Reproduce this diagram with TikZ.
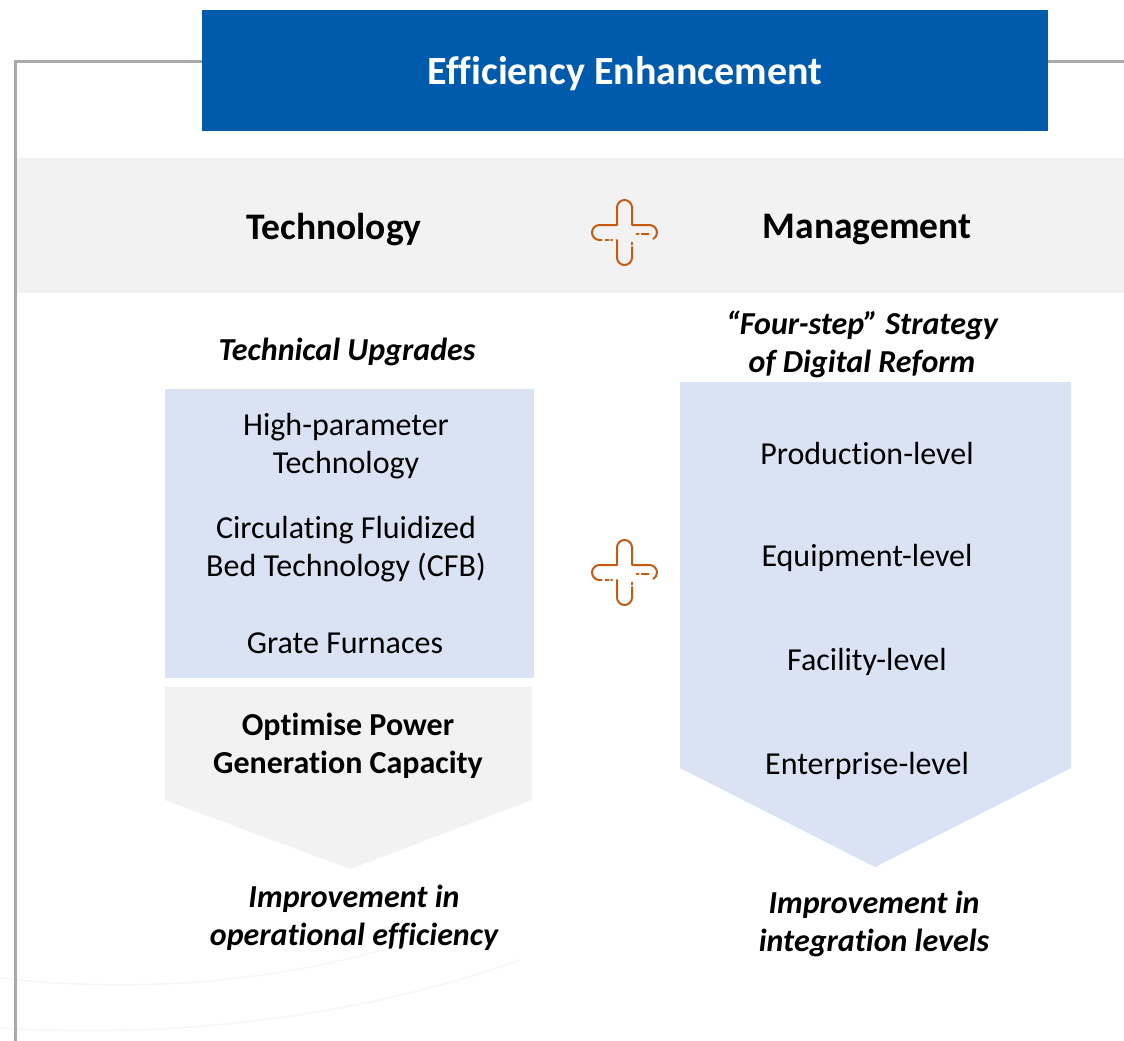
\documentclass[tikz,border=0pt]{standalone}
\usepackage{fontspec}
\setmainfont{Carlito}[Ligatures=NoCommon]
\definecolor{titleblue}{HTML}{005BAC}
\definecolor{bandgray}{HTML}{F2F2F2}
\definecolor{lightblue}{HTML}{DAE3F3}
\definecolor{framegray}{HTML}{A9A9A9}
\definecolor{plusorange}{HTML}{C55A11}
\begin{document}
\begin{tikzpicture}[x=1pt,y=-1pt,
  frameline/.style={draw=framegray,line width=3pt},
  plusline/.style={draw=plusorange,line width=2pt,line cap=round,line join=round},
  header/.style={font=\fontsize{37.5}{40}\selectfont\bfseries,align=center},
  label/.style={font=\fontsize{32}{38}\selectfont\bfseries\itshape,align=center},
  body/.style={font=\fontsize{32}{38}\selectfont,align=center},
  boldbody/.style={font=\fontsize{32}{38}\selectfont\bfseries,align=center},
  faint/.style={draw=black!3,line width=1.5pt},
  plusicon/.pic={
    \begin{scope}[yscale=-1]
      \draw[plusline] (-23,-7.5) -- (-25,-7.5) arc[start angle=270,end angle=90,radius=7.5]
        -- (-7.5,7.5) -- (-7.5,25) arc[start angle=180,end angle=0,radius=7.5]
        -- (7.5,7.5) -- (25,7.5) arc[start angle=90,end angle=-60,radius=7.5];
      \draw[plusline] (12,-1.5) -- (14,-1.5);
      \draw[plusline] (17,-1.5) -- (24,-1.5);
      \draw[plusline] (7.5,-10) -- (7.5,-12);
      \draw[plusline] (7.5,-14.5) -- (7.5,-25) arc[start angle=0,end angle=-180,radius=7.5] -- (-7.5,-7.5);
      \draw[plusline] (-19,-7.5) -- (-16,-7.5);
      \draw[plusline] (-13.5,-7.5) -- (-12.5,-7.5);
    \end{scope}
  }]
\useasboundingbox (0,0) rectangle (1124,1041);
\fill[white] (0,0) rectangle (1124,1041);
% faint background curves
\draw[faint] (0,978) .. controls (150,995) and (300,980) .. (430,935);
\draw[faint] (0,1028) .. controls (200,1040) and (380,1010) .. (520,960);
% gray band
\fill[bandgray] (17,158) rectangle (1124,293);
% frame
\draw[frameline] (15.5,1041) -- (15.5,62) -- (202,62);
\draw[frameline] (1048,62) -- (1124,62);
% title box
\fill[titleblue] (202,10) rectangle (1048,131);
\node[header,text=white,font=\fontsize{40}{44}\selectfont\bfseries] (title) at (625,74) {Efficiency Enhancement};
% headers
\node[header] (tech) at (334,230) {Technology};
\node[header] (mgmt) at (867,230) {Management};
\pic (plusA) at (624.5,232.5) {plusicon};
\pic (plusB) at (624.5,572.5) {plusicon};
% left column
\node[label] (upg) at (347,352) {Technical Upgrades};
\fill[lightblue] (165,389) rectangle (534,678);
\node[body] (hp) at (346,446) {High-parameter\\Technology};
\node[body] (cfb) at (346,549) {Circulating Fluidized\\Bed Technology (CFB)};
\node[body] (grate) at (345,643) {Grate Furnaces};
\fill[bandgray] (165,687) -- (532,687) -- (532,800) -- (350,869) -- (165,800) -- cycle;
\node[boldbody] (opt) at (348,746) {Optimise Power\\Generation Capacity};
\node[label] (impL) at (354,918) {Improvement in\\operational efficiency};
% right column
\node[label] (four) at (862,344) {“Four-step” Strategy\\of Digital Reform};
\fill[lightblue] (680,382) -- (1071,382) -- (1071,768) -- (875,867) -- (680,768) -- cycle;
\node[body] (prod) at (867,454) {Production-level};
\node[body] (equip) at (867,558) {Equipment-level};
\node[body] (fac) at (867,662) {Facility-level};
\node[body] (ent) at (867,766) {Enterprise-level};
\node[label] (impR) at (874,924) {Improvement in\\integration levels};
\end{tikzpicture}
\end{document}
